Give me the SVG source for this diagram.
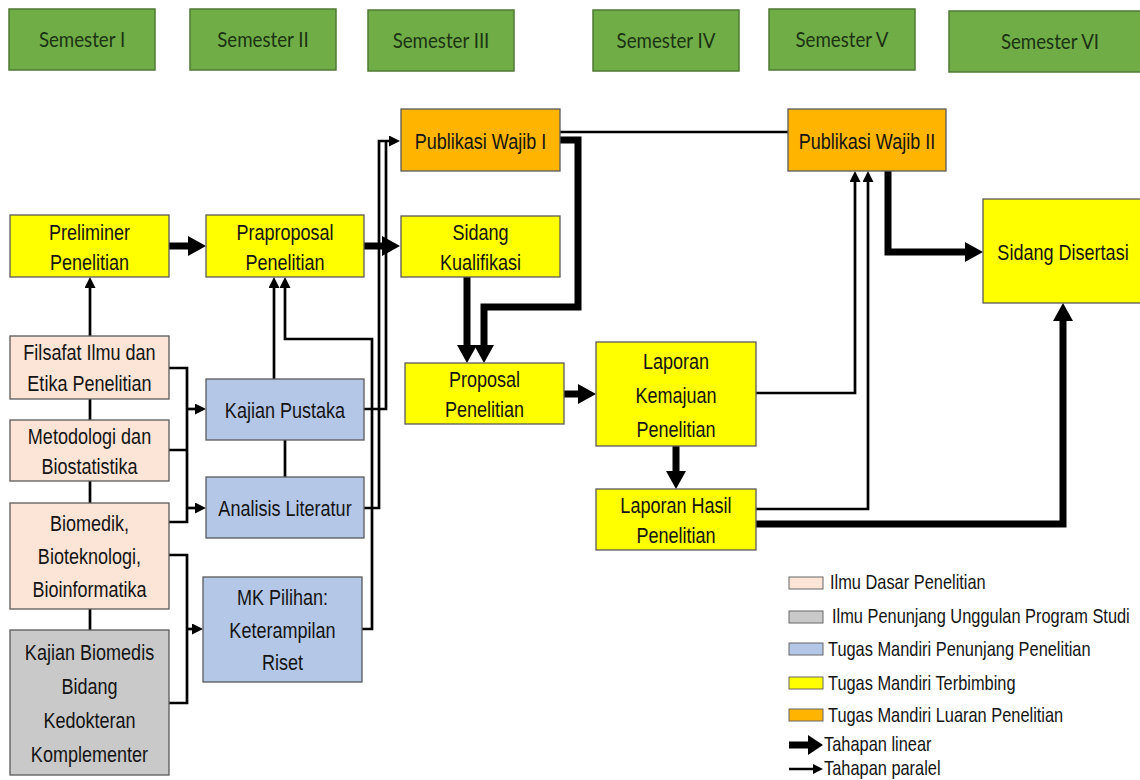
<svg xmlns="http://www.w3.org/2000/svg" width="1140" height="780" viewBox="0 0 1140 780">
<style>
.sem rect{fill:#70AD47;stroke:#4E7A33;stroke-width:1.5}
.sem text{font-family:Lato,"Liberation Sans",sans-serif;font-size:22px;fill:#1B3313;text-anchor:middle}
.node rect{stroke:#5a5a5a;stroke-width:1.3}
.node text,.leg text{font-family:"Liberation Sans",Arial,sans-serif;font-size:22px;fill:#141414;text-anchor:middle}
.leg text{font-size:20px;text-anchor:start}
.y{fill:#FFFF00}.p{fill:#FCE4D6}.g{fill:#C9C9C9}.b{fill:#B4C7E7}.o{fill:#FFB400}
.thin{stroke:#000;stroke-width:2.7;fill:none}
.thick{stroke:#000;stroke-width:7;fill:none}
.ah{marker-end:url(#hs)}
.AH{marker-end:url(#hb)}
</style>
<defs>
<marker id="hb" viewBox="0 -10 18 20" markerWidth="18" markerHeight="20" refX="1" refY="0" markerUnits="userSpaceOnUse" orient="auto"><path d="M0,-10 L18,0 L0,10 z" fill="#000"/></marker>
<marker id="hs" viewBox="0 -5.5 11 11" markerWidth="11" markerHeight="11" refX="1" refY="0" markerUnits="userSpaceOnUse" orient="auto"><path d="M0,-5.5 L11,0 L0,5.5 z" fill="#000"/></marker>
</defs>
<rect width="1140" height="780" fill="#fff"/>

<g id="semester-1" class="sem"><rect x="9" y="9" width="146" height="61"/><text transform="matrix(0.85 0 0 1 82 47)">Semester I</text></g>
<g id="semester-2" class="sem"><rect x="190" y="9" width="146" height="61"/><text transform="matrix(0.85 0 0 1 263 47)">Semester II</text></g>
<g id="semester-3" class="sem"><rect x="368" y="10" width="146" height="61"/><text transform="matrix(0.85 0 0 1 441 48)">Semester III</text></g>
<g id="semester-4" class="sem"><rect x="593" y="10" width="146" height="61"/><text transform="matrix(0.85 0 0 1 666 48)">Semester IV</text></g>
<g id="semester-5" class="sem"><rect x="769" y="9" width="146" height="61"/><text transform="matrix(0.85 0 0 1 842 47)">Semester V</text></g>
<g id="semester-6" class="sem"><rect x="949" y="11" width="200" height="61"/><text transform="matrix(0.85 0 0 1 1050 49)">Semester VI</text></g>

<g id="connectors">
<path class="thick AH" d="M169,246 H189"/>
<path class="thick AH" d="M364,246 H383"/>
<path class="thick AH" d="M467,277 V346"/>
<path class="thick AH" d="M560,140 H578 V307 H484 V346"/>
<path class="thick AH" d="M564,394 H579"/>
<path class="thick AH" d="M676,446 V472"/>
<path class="thick AH" d="M888,171 V252 H966"/>
<path class="thick AH" d="M756,524 H1063 V320"/>

<path class="thin ah" d="M90,336 V287"/>
<path class="thin" d="M90,399 V420 M90,481 V503 M90,609 V630"/>
<path class="thin" d="M169,368 H187 V522 H169 M169,450 H187"/>
<path class="thin ah" d="M187,409 H196"/>
<path class="thin ah" d="M187,508 H196"/>
<path class="thin" d="M169,555 H187 V703 H169"/>
<path class="thin ah" d="M187,629 H193"/>
<path class="thin ah" d="M274,379 V287"/>
<path class="thin" d="M285,440 V477"/>
<path class="thin ah" d="M362,629 H372 V339 H285 V287"/>
<path class="thin ah" d="M364,508 H379 V141 H390"/>
<path class="thin" d="M364,409 H386 V141"/>
<path class="thin" d="M560,132 H788"/>
<path class="thin ah" d="M756,393 H855 V181"/>
<path class="thin ah" d="M756,509 H868 V181"/>
</g>

<g id="preliminer" class="node"><rect class="y" x="10" y="215" width="159" height="62"/><text transform="matrix(0.82 0 0 1 89.5 240)">Preliminer</text><text transform="matrix(0.82 0 0 1 89.5 270)">Penelitian</text></g>
<g id="praproposal" class="node"><rect class="y" x="206" y="215" width="158" height="62"/><text transform="matrix(0.82 0 0 1 285 240)">Praproposal</text><text transform="matrix(0.82 0 0 1 285 270)">Penelitian</text></g>
<g id="filsafat" class="node"><rect class="p" x="10" y="336" width="159" height="63"/><text transform="matrix(0.82 0 0 1 89.5 360)">Filsafat Ilmu dan</text><text transform="matrix(0.82 0 0 1 89.5 391)">Etika Penelitian</text></g>
<g id="metodologi" class="node"><rect class="p" x="10" y="420" width="159" height="61"/><text transform="matrix(0.82 0 0 1 89.5 444)">Metodologi dan</text><text transform="matrix(0.82 0 0 1 89.5 474)">Biostatistika</text></g>
<g id="biomedik" class="node"><rect class="p" x="10" y="503" width="159" height="106"/><text transform="matrix(0.82 0 0 1 89.5 531)">Biomedik,</text><text transform="matrix(0.82 0 0 1 89.5 564)">Bioteknologi,</text><text transform="matrix(0.82 0 0 1 89.5 597)">Bioinformatika</text></g>
<g id="kajian-biomedis" class="node"><rect class="g" x="10" y="630" width="159" height="145"/><text transform="matrix(0.82 0 0 1 89.5 660)">Kajian Biomedis</text><text transform="matrix(0.82 0 0 1 89.5 694)">Bidang</text><text transform="matrix(0.82 0 0 1 89.5 728)">Kedokteran</text><text transform="matrix(0.82 0 0 1 89.5 762)">Komplementer</text></g>
<g id="kajian-pustaka" class="node"><rect class="b" x="206" y="379" width="158" height="61"/><text transform="matrix(0.82 0 0 1 285 418)">Kajian Pustaka</text></g>
<g id="analisis-literatur" class="node"><rect class="b" x="206" y="477" width="158" height="61"/><text transform="matrix(0.82 0 0 1 285 516)">Analisis Literatur</text></g>
<g id="mk-pilihan" class="node"><rect class="b" x="203" y="577" width="159" height="105"/><text transform="matrix(0.82 0 0 1 282.5 605)">MK Pilihan:</text><text transform="matrix(0.82 0 0 1 282.5 638)">Keterampilan</text><text transform="matrix(0.82 0 0 1 282.5 670)">Riset</text></g>
<g id="publikasi-1" class="node"><rect class="o" x="401" y="109" width="159" height="62"/><text transform="matrix(0.82 0 0 1 480.5 149)">Publikasi Wajib I</text></g>
<g id="sidang-kualifikasi" class="node"><rect class="y" x="401" y="216" width="159" height="61"/><text transform="matrix(0.82 0 0 1 480.5 240)">Sidang</text><text transform="matrix(0.82 0 0 1 480.5 270)">Kualifikasi</text></g>
<g id="proposal" class="node"><rect class="y" x="405" y="363" width="159" height="61"/><text transform="matrix(0.82 0 0 1 484.5 387)">Proposal</text><text transform="matrix(0.82 0 0 1 484.5 417)">Penelitian</text></g>
<g id="laporan-kemajuan" class="node"><rect class="y" x="596" y="342" width="160" height="104"/><text transform="matrix(0.82 0 0 1 676 369)">Laporan</text><text transform="matrix(0.82 0 0 1 676 403)">Kemajuan</text><text transform="matrix(0.82 0 0 1 676 437)">Penelitian</text></g>
<g id="laporan-hasil" class="node"><rect class="y" x="596" y="489" width="160" height="61"/><text transform="matrix(0.82 0 0 1 676 513)">Laporan Hasil</text><text transform="matrix(0.82 0 0 1 676 543)">Penelitian</text></g>
<g id="publikasi-2" class="node"><rect class="o" x="788" y="109" width="158" height="62"/><text transform="matrix(0.82 0 0 1 867 149)">Publikasi Wajib II</text></g>
<g id="sidang-disertasi" class="node"><rect class="y" x="983" y="199" width="162" height="104"/><text transform="matrix(0.82 0 0 1 1063 260)">Sidang Disertasi</text></g>

<g id="legend" class="leg">
<rect class="p" x="789" y="577" width="34" height="12" stroke="#666" stroke-width="1"/><text transform="matrix(0.82 0 0 1 830 589)">Ilmu Dasar Penelitian</text>
<rect class="g" x="789" y="611" width="34" height="12" stroke="#666" stroke-width="1"/><text transform="matrix(0.82 0 0 1 832 623)">Ilmu Penunjang Unggulan Program Studi</text>
<rect class="b" x="789" y="643" width="34" height="12" stroke="#666" stroke-width="1"/><text transform="matrix(0.82 0 0 1 828 656)">Tugas Mandiri Penunjang Penelitian</text>
<rect class="y" x="789" y="677" width="34" height="12" stroke="#666" stroke-width="1"/><text transform="matrix(0.82 0 0 1 828 690)">Tugas Mandiri Terbimbing</text>
<rect class="o" x="789" y="709" width="34" height="12" stroke="#666" stroke-width="1"/><text transform="matrix(0.82 0 0 1 828 722)">Tugas Mandiri Luaran Penelitian</text>
<path d="M789,745 H810" stroke="#000" stroke-width="7"/><path d="M808,735 L823,745 L808,755 z"/><text transform="matrix(0.82 0 0 1 824 751)">Tahapan linear</text>
<path d="M789,769 H815" stroke="#000" stroke-width="2.5"/><path d="M813,764 L823,769 L813,774 z"/><text transform="matrix(0.82 0 0 1 824 775)">Tahapan paralel</text>
</g>
</svg>
